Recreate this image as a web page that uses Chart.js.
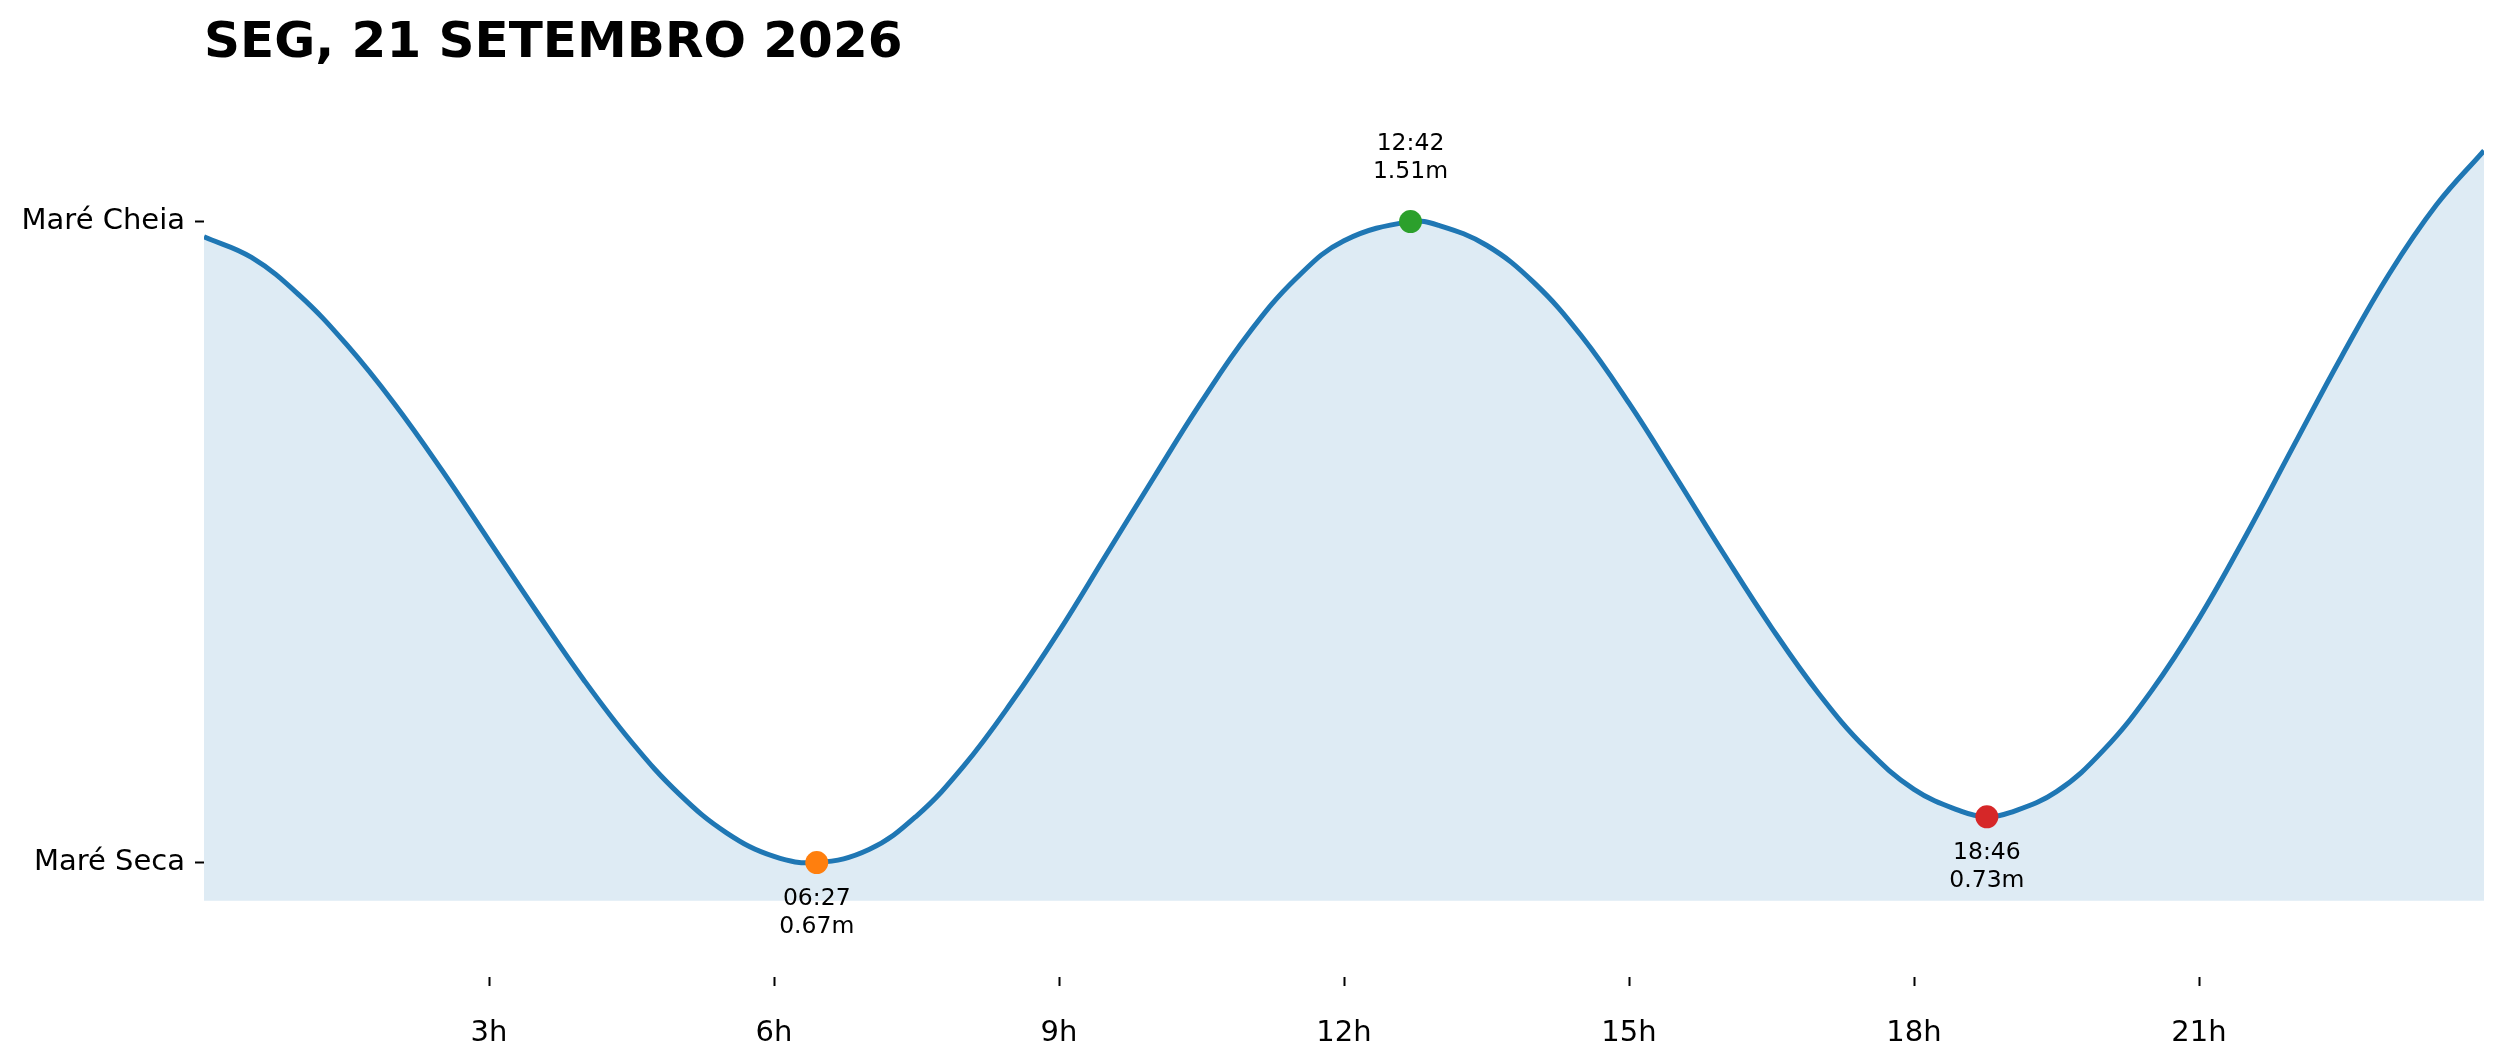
<!DOCTYPE html>
<html>
<head>
<meta charset="utf-8">
<script src="https://cdn.jsdelivr.net/npm/chart.js@4.4.1/dist/chart.umd.min.js"></script>
<style>
  html, body { margin:0; padding:0; background:#ffffff; }
  #tideChart { display:block; }
</style>
</head>
<body>
<canvas id="tideChart" width="2501" height="1062"></canvas>
<script>
// tide curve (hours of the day, height in metres)
const hours   = [0, 0.5, 1, 1.5, 2, 2.5, 3, 3.5, 4, 4.5, 5, 5.5, 6, 6.45,
                 7, 7.5, 8, 8.5, 9, 9.5, 10, 10.5, 11, 11.5, 12, 12.7,
                 13, 13.5, 14, 14.5, 15, 15.5, 16, 16.5, 17, 17.5, 18, 18.5, 18.767,
                 19, 19.5, 20, 20.5, 21, 21.5, 22, 22.5, 23, 23.5, 24];
const heights = [1.490, 1.463, 1.414, 1.349, 1.272, 1.185, 1.092, 0.999, 0.909, 0.828, 0.760, 0.709, 0.678, 0.670,
                 0.687, 0.731, 0.797, 0.880, 0.973, 1.074, 1.175, 1.274, 1.364, 1.436, 1.485, 1.510,
                 1.505, 1.479, 1.430, 1.360, 1.272, 1.174, 1.074, 0.978, 0.891, 0.819, 0.766, 0.737, 0.730,
                 0.735, 0.763, 0.818, 0.895, 0.990, 1.100, 1.217, 1.333, 1.441, 1.532, 1.603];

// high / low water marks
const extremeTimes   = [6.45, 12.7, 18.767];
const extremeHeights = [0.67, 1.51, 0.73];
const extremeClock   = ['06:27', '12:42', '18:46'];
const extremeKinds   = ['low', 'high', 'low'];
const extremeColors  = ['#ff7f0e', '#2ca02c', '#d62728'];

// axis ticks
const xTickValues = [3, 6, 9, 12, 15, 18, 21];
const yTickValues = [0.67, 1.51];
const yTickLabels = ['Maré Seca', 'Maré Cheia'];

const titleText = 'SEG, 21 SETEMBRO 2026';
const FONT = "'DejaVu Sans', sans-serif";

const curve = hours.map((h, i) => ({x: h, y: heights[i]}));
const marks = extremeTimes.map((t, i) => ({x: t, y: extremeHeights[i]}));

// labels "hh:mm / x.xxm" next to the marks
const markLabels = {
  id: 'markLabels',
  afterDatasetsDraw(chart) {
    const {ctx, scales} = chart;
    ctx.save();
    ctx.font = '23.5px ' + FONT;
    ctx.fillStyle = '#000';
    ctx.textAlign = 'center';
    ctx.textBaseline = 'alphabetic';
    extremeTimes.forEach((t, i) => {
      const px = scales.x.getPixelForValue(t);
      const py = scales.y.getPixelForValue(extremeHeights[i]);
      const l1 = extremeClock[i], l2 = extremeHeights[i].toFixed(2) + 'm';
      if (extremeKinds[i] === 'high') {
        ctx.fillText(l1, px, py - 72);
        ctx.fillText(l2, px, py - 44);
      } else {
        ctx.fillText(l1, px, py + 42);
        ctx.fillText(l2, px, py + 70);
      }
    });
    ctx.restore();
  }
};

new Chart(document.getElementById('tideChart').getContext('2d'), {
  type: 'line',
  data: {
    datasets: [
      {
        label: 'extremos',
        data: marks,
        showLine: false,
        pointRadius: 11.5,
        pointBorderWidth: 0,
        pointBackgroundColor: extremeColors,
        order: 0
      },
      {
        label: 'maré',
        data: curve,
        borderColor: '#1f77b4',
        borderWidth: 5,
        pointRadius: 0,
        tension: 0.4,
        fill: {value: 0.62},
        backgroundColor: 'rgba(31,119,180,0.15)',
        order: 1
      }
    ]
  },
  options: {
    responsive: false,
    devicePixelRatio: 1,
    animation: false,
    layout: {padding: {left: 0, right: 17, top: 0, bottom: 0}},
    plugins: {
      legend: {display: false},
      tooltip: {enabled: false},
      title: {
        display: true,
        text: titleText,
        align: 'start',
        fullSize: false,
        color: '#000',
        font: {family: FONT, size: 50, weight: 'bold', lineHeight: 0.98},
        padding: {top: 20, bottom: 0}
      }
    },
    scales: {
      x: {
        type: 'linear',
        min: 0,
        max: 24,
        border: {display: false},
        grid: {drawOnChartArea: false, drawTicks: true, tickLength: 9, tickColor: '#000', tickWidth: 2},
        afterBuildTicks: (s) => { s.ticks = xTickValues.map(v => ({value: v})); },
        afterFit: (s) => { s.height = 85; },
        ticks: {
          color: '#000',
          padding: 30,
          maxRotation: 0,
          font: {family: FONT, size: 29},
          callback: (v) => v + 'h'
        }
      },
      y: {
        type: 'linear',
        min: 0.52,
        max: 1.71,
        border: {display: false},
        grid: {drawOnChartArea: false, drawTicks: true, tickLength: 9, tickColor: '#000', tickWidth: 2},
        afterBuildTicks: (s) => { s.ticks = yTickValues.map(v => ({value: v})); },
        afterFit: (s) => { s.width = 204; },
        ticks: {
          color: '#000',
          padding: 10,
          font: {family: FONT, size: 29},
          callback: (v) => {
            const i = yTickValues.indexOf(v);
            return i >= 0 ? yTickLabels[i] : '';
          }
        }
      }
    }
  },
  plugins: [markLabels]
});
</script>
</body>
</html>
